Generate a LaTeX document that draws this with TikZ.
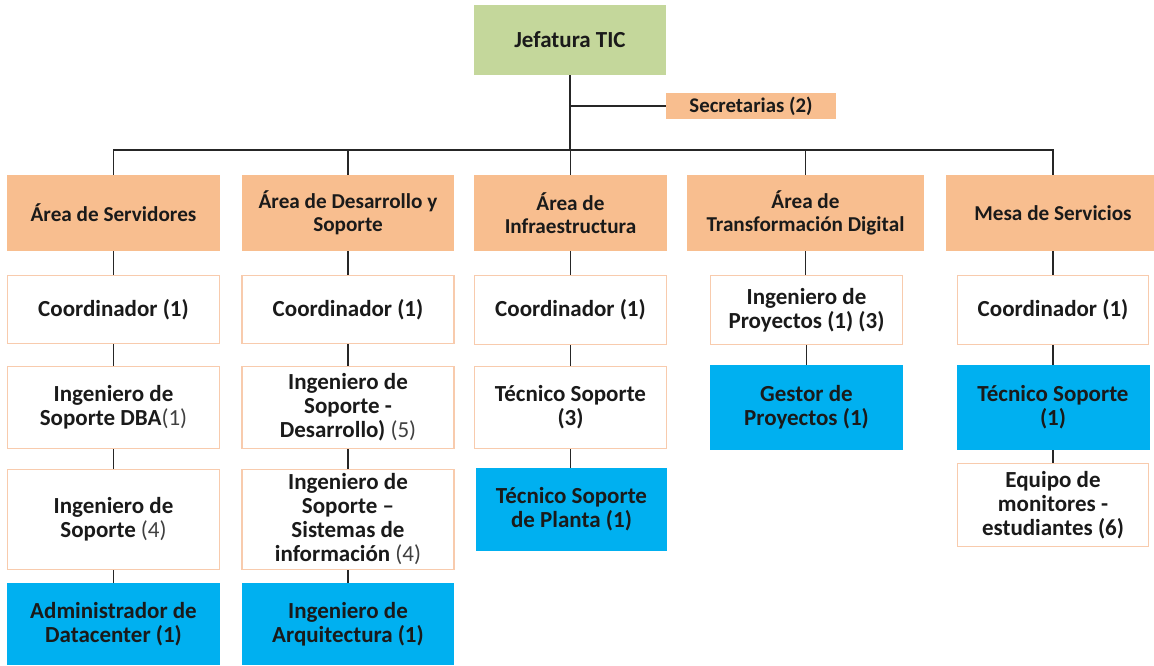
\documentclass[tikz,border=0pt]{standalone}
\usepackage{fontspec}
\setmainfont{Carlito}
\definecolor{greenF}{HTML}{C4D79B}
\definecolor{orangeF}{HTML}{F8BE8F}
\definecolor{blueF}{HTML}{00B0F0}
\definecolor{borderO}{HTML}{F8CBAD}
\definecolor{txt}{HTML}{1A1A1A}
\definecolor{txtg}{HTML}{404040}
\newcommand{\reg}[1]{{\mdseries\color{txtg}#1}}
\begin{document}
\begin{tikzpicture}[x=1pt,y=-1pt,
  base/.style={align=center, inner sep=0pt, text=txt,
    font=\fontsize{23}{24}\selectfont\bfseries},
  gbox/.style={base, fill=greenF},
  area/.style={base, fill=orangeF, font=\fontsize{21.2}{23.5}\selectfont\bfseries},
  wbox/.style={base, fill=white, draw=borderO, line width=1.6pt},
  bbox/.style={base, fill=blueF},
  conn/.style={draw=black!85, line width=1.6pt}]
\useasboundingbox (0,0) rectangle (1154,665);
\fill[white] (0,0) rectangle (1154,665);

% top
\node[gbox, minimum width=192pt, minimum height=70pt] (jef) at (570,40) {Jefatura TIC};
\node[area, minimum width=170pt, minimum height=26pt, font=\fontsize{20.8}{23}\selectfont\bfseries] (sec) at (751,106) {Secretarias (2)};
\coordinate (bus) at (570,150);

% area row
\node[area, minimum width=213pt, minimum height=76pt] (a1) at (113.5,213) {Área de Servidores};
\node[area, minimum width=212pt, minimum height=76pt] (a2) at (348,213) {Área de Desarrollo y\\Soporte};
\node[area, minimum width=193pt, minimum height=76pt] (a3) at (570.5,213) {Área de\\Infraestructura};
\node[area, minimum width=237pt, minimum height=76pt] (a4) at (805.5,213) {Área de\\Transformación Digital};
\node[area, minimum width=214pt, minimum height=76pt] (a5) at (1053,213) {Mesa de Servicios};

% row 2
\node[wbox, minimum width=212pt, minimum height=68pt] (c1) at (113.5,309.5) {Coordinador (1)};
\node[wbox, minimum width=212pt, minimum height=68pt] (c2) at (348,309.5) {Coordinador (1)};
\node[wbox, minimum width=192pt, minimum height=69pt] (c3) at (570.5,310) {Coordinador (1)};
\node[wbox, minimum width=192pt, minimum height=69pt] (c4) at (806.5,310) {Ingeniero de\\Proyectos (1) (3)};
\node[wbox, minimum width=191pt, minimum height=69pt] (c5) at (1053,310) {Coordinador (1)};

% row 3
\node[wbox, minimum width=212pt, minimum height=82pt] (d1) at (113.5,407.5) {Ingeniero de\\Soporte DBA\reg{(1)}};
\node[wbox, minimum width=212pt, minimum height=82pt] (d2) at (348,407.5) {Ingeniero de\\Soporte -\\Desarrollo) \reg{(5)}};
\node[wbox, minimum width=192pt, minimum height=82pt] (d3) at (570.5,407.5) {Técnico Soporte\\(3)};
\node[bbox, minimum width=193pt, minimum height=85pt] (d4) at (806.5,407.5) {Gestor de\\Proyectos (1)};
\node[bbox, minimum width=193pt, minimum height=85pt] (d5) at (1053,407.5) {Técnico Soporte\\(1)};

% row 4
\node[wbox, minimum width=212pt, minimum height=100pt] (e1) at (113.5,519.5) {Ingeniero de\\Soporte \reg{(4)}};
\node[wbox, minimum width=212pt, minimum height=100pt] (e2) at (348,519.5) {Ingeniero de\\Soporte –\\Sistemas de\\información \reg{(4)}};
\node[bbox, minimum width=191pt, minimum height=83pt] (e3) at (571.5,509.5) {Técnico Soporte\\de Planta (1)};
\node[wbox, minimum width=191pt, minimum height=83pt] (e5) at (1053,505) {Equipo de\\monitores -\\estudiantes (6)};

% row 5
\node[bbox, minimum width=213pt, minimum height=82pt] (f1) at (113.5,624) {Administrador de\\Datacenter (1)};
\node[bbox, minimum width=212pt, minimum height=82pt] (f2) at (348,624) {Ingeniero de\\Arquitectura (1)};

% connectors top
\draw[conn] (jef.south) -- (bus);
\draw[conn] (sec.west) -- (sec.west -| jef.south);
\draw[conn] (a1.north) |- (bus) -| (a5.north);
\draw[conn] (a2.north) -- (a2.north |- bus);
\draw[conn] (a3.north) -- (a3.north |- bus);
\draw[conn] (a4.north) -- (a4.north |- bus);

% column connectors
\draw[conn] (a1.south) -- (a1.south |- c1.north);
\draw[conn] (c1.south) -- (c1.south |- d1.north);
\draw[conn] (d1.south) -- (d1.south |- e1.north);
\draw[conn] (e1.south) -- (e1.south |- f1.north);

\draw[conn] (a2.south) -- (a2.south |- c2.north);
\draw[conn] (c2.south) -- (c2.south |- d2.north);
\draw[conn] (d2.south) -- (d2.south |- e2.north);
\draw[conn] (e2.south) -- (e2.south |- f2.north);

\draw[conn] (a3.south) -- (a3.south |- c3.north);
\draw[conn] (c3.south) -- (c3.south |- d3.north);
\draw[conn] (d3.south) -- (d3.south |- e3.north);

\draw[conn] (a4.south) -- (a4.south |- c4.north);
\draw[conn] (c4.south) -- (c4.south |- d4.north);

\draw[conn] (a5.south) -- (a5.south |- c5.north);
\draw[conn] (c5.south) -- (c5.south |- d5.north);
\draw[conn] (d5.south) -- (d5.south |- e5.north);
\end{tikzpicture}
\end{document}
